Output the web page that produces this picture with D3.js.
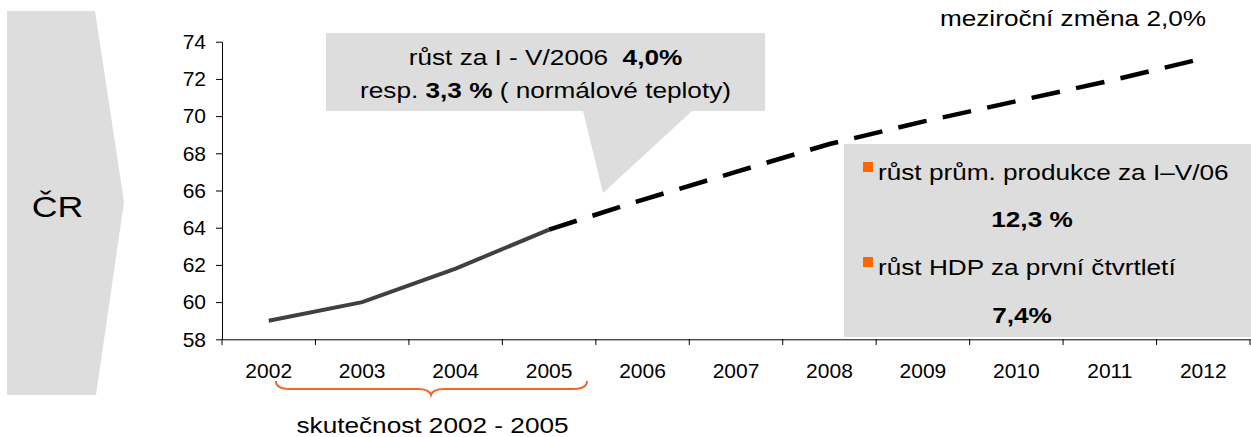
<!DOCTYPE html>
<html>
<head>
<meta charset="utf-8">
<script src="https://cdn.jsdelivr.net/npm/d3@7"></script>
<style>
  body { margin: 0; background: #fff; }
  svg { display: block; font-family: "Liberation Sans", Arial, sans-serif; }
</style>
</head>
<body>
<div class="vis"></div>
<script>
// years on the x axis
const years = ["2002", "2003", "2004", "2005", "2006", "2007", "2008", "2009", "2010", "2011", "2012"];
// actual values 2002-2005
const actualYears = ["2002", "2003", "2004", "2005"];
const actualValues = [59.0, 60.0, 61.8, 63.9];
// outlook 2005-2012
const outlookYears = ["2005", "2006", "2007", "2008", "2009", "2010", "2011", "2012"];
const outlookValues = [63.9, 65.5, 67.0, 68.5, 69.7, 70.8, 71.9, 73.1];
const yTicks = [58, 60, 62, 64, 66, 68, 70, 72, 74];

const W = 1251, H = 437;
const stretch = 1.19; // annotation text is drawn a bit wide in the original

const svg = d3.select(".vis").append("svg")
  .attr("width", W)
  .attr("height", H);

// scales
const x = d3.scaleBand().domain(years).range([222, 1250]);
const y = d3.scaleLinear().domain([58, 74]).range([339.3, 41.7]);
const cx = d => x(d) + x.bandwidth() / 2;

// helper for wide text
function wideText(px, py, anchor, size, parts) {
  const t = svg.append("g")
    .attr("transform", `translate(${px},${py}) scale(${stretch},1)`)
    .append("text")
    .attr("text-anchor", anchor)
    .attr("font-size", size)
    .attr("fill", "#000")
    .style("white-space", "pre");
  parts.forEach(p => {
    t.append("tspan").attr("font-weight", p.bold ? "bold" : "normal").text(p.text);
  });
  return t;
}

// gray arrow on the left
svg.append("polygon")
  .attr("points", "7,11 95,11 124,202 96,395 7,395")
  .attr("fill", "#dddddd");
wideText(57.5, 217, "middle", 30, [{ text: "ČR" }]);

// callout box
svg.append("polygon")
  .attr("points", "326,33 765,33 765,111 692,111 603,193 583,111 326,111")
  .attr("fill", "#dddddd");
wideText(545.5, 65, "middle", 22, [{ text: "růst za I - V/2006  " }, { text: "4,0%", bold: true }]);
wideText(545.5, 98, "middle", 22, [{ text: "resp. " }, { text: "3,3 %", bold: true }, { text: " ( normálové teploty)" }]);

// right info box
svg.append("rect")
  .attr("x", 844).attr("y", 144)
  .attr("width", W - 844).attr("height", 193)
  .attr("fill", "#dddddd");
svg.append("rect").attr("x", 863).attr("y", 162).attr("width", 10).attr("height", 10).attr("fill", "#ff6600");
svg.append("rect").attr("x", 863).attr("y", 257).attr("width", 10).attr("height", 10).attr("fill", "#ff6600");
wideText(878, 180, "start", 22, [{ text: "růst prům. produkce za I–V/06" }]);
wideText(1032, 227, "middle", 22, [{ text: "12,3 %", bold: true }]);
wideText(878, 275, "start", 22, [{ text: "růst HDP za první čtvrtletí" }]);
wideText(1022, 323, "middle", 22, [{ text: "7,4%", bold: true }]);

// y axis
const yAxis = svg.append("g")
  .attr("transform", "translate(222,0)")
  .call(d3.axisLeft(y).tickValues(yTicks).tickSize(6).tickSizeOuter(0).tickPadding(10));
yAxis.selectAll("text").attr("font-size", 21).attr("fill", "#000").attr("font-family", null);
yAxis.selectAll("line, path").attr("stroke", "#000");

// x axis, labels in the middle of the bands
const xAxis = svg.append("g")
  .attr("transform", "translate(0,339.3)")
  .call(d3.axisBottom(x).tickSize(0).tickSizeOuter(0).tickPadding(24));
xAxis.selectAll("text").attr("font-size", 21).attr("fill", "#000").attr("font-family", null);
xAxis.select("path").attr("stroke", "#000");

// x ticks sit on the band edges
const edges = years.map(d => x(d)).concat([x.range()[1]]);
svg.append("g").selectAll("line")
  .data(edges)
  .enter().append("line")
  .attr("x1", d => d).attr("x2", d => d)
  .attr("y1", 339.3).attr("y2", 345)
  .attr("stroke", "#000");

// lines
const line = d3.line()
  .x(d => cx(d.year))
  .y(d => y(d.value));

svg.append("path")
  .datum(actualYears.map((d, i) => ({ year: d, value: actualValues[i] })))
  .attr("fill", "none")
  .attr("stroke", "#404040")
  .attr("stroke-width", 4)
  .attr("d", line);

svg.append("path")
  .datum(outlookYears.map((d, i) => ({ year: d, value: outlookValues[i] })))
  .attr("fill", "none")
  .attr("stroke", "#000")
  .attr("stroke-width", 4.5)
  .attr("stroke-dasharray", "29,16.5")
  .attr("d", line);

wideText(1073, 26, "middle", 22, [{ text: "meziroční změna 2,0%" }]);

// orange brace under 2002-2005
svg.append("path")
  .attr("d", "M276,381 Q276,389 290,389 L418,389 Q429,389 431,395 Q433,389 444,389 L573,389 Q587,389 587,381")
  .attr("fill", "none")
  .attr("stroke", "#f26522")
  .attr("stroke-width", 2);
wideText(432.5, 433, "middle", 22, [{ text: "skutečnost 2002 - 2005" }]);
</script>
</body>
</html>
